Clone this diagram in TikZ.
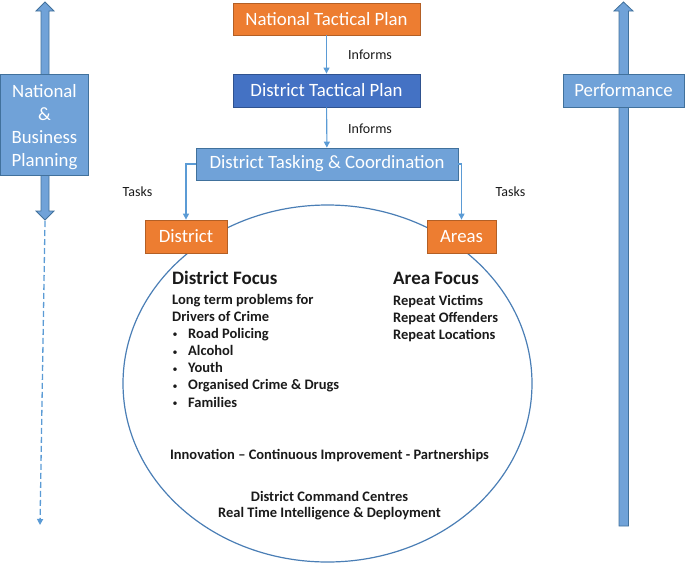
\documentclass[tikz,border=0pt]{standalone}
\usepackage{fontspec}
\setmainfont{Carlito}
\usetikzlibrary{arrows.meta,shapes.geometric}
\definecolor{orgfill}{HTML}{ED7D31}
\definecolor{orgline}{HTML}{B35F25}
\definecolor{dkfill}{HTML}{4472C4}
\definecolor{dkline}{HTML}{2F528F}
\definecolor{ltfill}{HTML}{70A2D8}
\definecolor{ltline}{HTML}{41719C}
\definecolor{connc}{HTML}{5B9BD5}
\definecolor{ellc}{HTML}{4A7EB5}
\definecolor{txt}{HTML}{1A1A1A}
\begin{document}
\begin{tikzpicture}[x=1pt,y=-1pt,
  box/.style={draw, line width=0.8pt, inner sep=0, text=white, align=center,
    font=\fontsize{18.8}{23}\selectfont},
  orgbox/.style={box, fill=orgfill, draw=orgline},
  dkbox/.style={box, fill=dkfill, draw=dkline},
  ltbox/.style={box, fill=ltfill, draw=ltline},
  boxtext/.style={inner sep=0, text=white, align=center, font=\fontsize{18.8}{23}\selectfont},
  conn/.style={draw=connc, line width=1.1pt, -{Triangle[length=6pt,width=6pt]}},
  dashconn/.style={draw=connc, line width=1.3pt, dash pattern=on 6pt off 3pt,
    -{Triangle[length=6pt,width=6pt]}},
  bigarrow/.style={fill=ltfill, draw=ltline, line width=0.8pt},
  small/.style={inner sep=0, text=txt, font=\fontsize{14}{16}\selectfont},
  lbl/.style={inner sep=0, anchor=west, text=txt, text height=0.72em, text depth=0.22em,
    font=\fontsize{14.5}{17}\selectfont\bfseries},
  bul/.style={inner sep=0, text=txt, font=\fontsize{10}{12}\selectfont},
  head/.style={lbl, font=\fontsize{19}{22}\selectfont\bfseries},
  bot/.style={inner sep=0, text=txt, text height=0.72em, text depth=0.22em,
    font=\fontsize{14.5}{17}\selectfont\bfseries}
]
\useasboundingbox (0,0) rectangle (685,563);

% big ellipse
\node[ellipse, draw=ellc, line width=1.2pt, minimum width=409, minimum height=357, inner sep=0] (circ) at (327.5,383.5) {};

% left double arrow
\draw[bigarrow] (45,2) -- (54,11) -- (49,11) -- (49,211) -- (54,211) -- (45,220)
  -- (36,211) -- (41,211) -- (41,11) -- (36,11) -- cycle;
\coordinate (dstart) at (45,221);
\coordinate (dend) at (40,525);
\draw[dashconn] (dstart) -- (dend);
\node[ltbox, minimum width=88, minimum height=101] (nbp) at (44.5,124.5) {};
\node[boxtext] (nbpt) at ([yshift=-3pt]nbp.center) {National\\\&\\Business\\Planning};

% right arrow
\draw[bigarrow] (623.5,2) -- (633,11) -- (628.5,11) -- (628.5,526) -- (619,526)
  -- (619,11) -- (614,11) -- cycle;
\node[ltbox, minimum width=121, minimum height=33] (perf) at (623.5,90.5) {Performance};

% central chain
\node[orgbox, minimum width=187, minimum height=32] (ntp) at (326.5,19) {National Tactical Plan};
\node[dkbox, minimum width=187, minimum height=33] (dtp) at (326.5,90.5) {District Tactical Plan};
\node[ltbox, minimum width=262, minimum height=32] (dtc) at (327,164) {District Tasking \& Coordination};
\node[orgbox, minimum width=82, minimum height=33] (dist) at (186,236.5) {District};
\node[orgbox, minimum width=69, minimum height=33] (areas) at (461.5,236.5) {Areas};

\draw[conn] (ntp) -- (dtp);
\draw[conn] (dtp) -- (dtc);
\draw[conn] (dtc.west) -| (dist.north);
\draw[conn] (dtc.east) -| (areas.north);

\node[small, anchor=west] (inf1) at (348,54.5) {Informs};
\node[small, anchor=west] (inf2) at (348,128.5) {Informs};
\node[small] (task1) at (137.5,192) {Tasks};
\node[small] (task2) at (510.5,192) {Tasks};

% district focus
\node[head] (df) at (172,281.5) {District Focus};
\node[lbl] (df1) at (172,301.5) {Long term problems for};
\node[lbl] (df2) at (172,318.5) {Drivers of Crime};
\foreach \t [count=\i] in {Road Policing, Alcohol, Youth, Organised Crime \& Drugs, Families}{
  \node[bul] (db\i) at (175,318.5+17.2*\i) {•};
  \node[lbl] (dt\i) at (188,318.5+17.2*\i) {\t};
}

% area focus
\node[head] (af) at (393,282) {Area Focus};
\node[lbl] (af1) at (393,302.5) {Repeat Victims};
\node[lbl] (af2) at (393,319.5) {Repeat Offenders};
\node[lbl] (af3) at (393,336.5) {Repeat Locations};

% bottom texts
\node[bot] (inn) at (329.5,457) {Innovation – Continuous Improvement - Partnerships};
\node[bot] (dcc) at (329.5,499) {District Command Centres};
\node[bot] (rti) at (329.5,515) {Real Time Intelligence \& Deployment};
\end{tikzpicture}
\end{document}
